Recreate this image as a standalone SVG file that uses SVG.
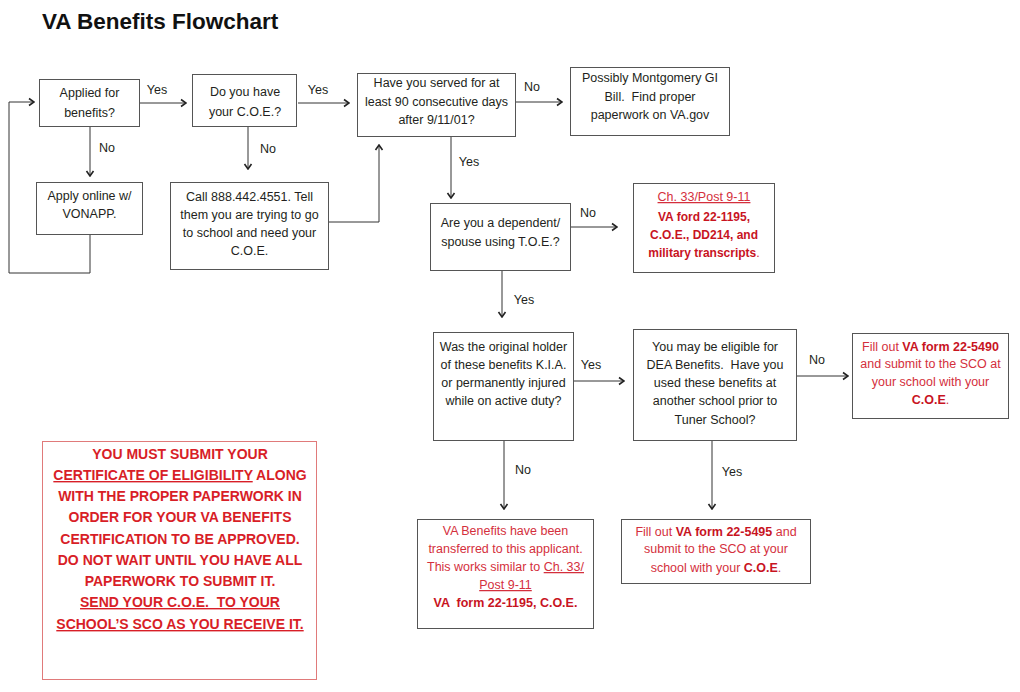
<svg xmlns="http://www.w3.org/2000/svg" width="1020" height="692" viewBox="0 0 1020 692">
<defs>
<marker id="arr" markerUnits="userSpaceOnUse" markerWidth="10" markerHeight="10" viewBox="0 0 10 10" refX="9" refY="5" orient="auto">
<path d="M4,1.5 L9,5 L4,8.5" fill="none" stroke="#222" stroke-width="1.6"/>
</marker>
</defs>
<style>
text{font-family:"Liberation Sans",Arial,sans-serif;font-size:12.5px;fill:#231f20}
.box{fill:#fff;stroke:#555;stroke-width:1}
.note{fill:#fff;stroke:#e07a7a;stroke-width:1}
.c{text-anchor:middle}
.r{fill:#d42f3c}
.b{font-weight:bold;fill:#c8141f}
.rb{font-weight:bold;fill:#c8141f}
.big{font-weight:bold;font-size:14px;fill:#d81e27;text-anchor:middle}
.u{text-decoration:underline}
.line{fill:none;stroke:#333;stroke-width:1;marker-end:url(#arr)}
.plain{fill:none;stroke:#333;stroke-width:1}
</style>
<rect width="1020" height="692" fill="#fff"/>
<text x="42" y="29" style="font-size:22.5px;font-weight:bold;fill:#111">VA Benefits Flowchart</text>

<g id="connectors">
<line class="line" x1="140" y1="103" x2="186" y2="103"/>
<line class="line" x1="298" y1="103" x2="349" y2="103"/>
<line class="line" x1="90" y1="127" x2="90" y2="176"/>
<polyline class="line" points="90,234 90,273 9,273 9,102 34,102"/>
<line class="line" x1="248" y1="126" x2="248" y2="169"/>
<polyline class="line" points="328,222 379,222 379,145"/>
<line class="line" x1="515" y1="102" x2="562" y2="102"/>
<line class="line" x1="451" y1="136" x2="451" y2="198"/>
<line class="line" x1="571" y1="227" x2="617" y2="227"/>
<line class="line" x1="502" y1="270" x2="502" y2="317"/>
<line class="line" x1="573" y1="381" x2="624" y2="381"/>
<line class="line" x1="797" y1="376" x2="848" y2="376"/>
<line class="line" x1="504" y1="440" x2="504" y2="509"/>
<line class="line" x1="712" y1="440" x2="712" y2="509"/>
<text class="c" x="157" y="94">Yes</text>
<text class="c" x="318" y="94">Yes</text>
<text class="c" x="107" y="152">No</text>
<text class="c" x="268" y="153">No</text>
<text class="c" x="532" y="91">No</text>
<text class="c" x="469" y="166">Yes</text>
<text class="c" x="588" y="217">No</text>
<text class="c" x="524" y="304">Yes</text>
<text class="c" x="591" y="369">Yes</text>
<text class="c" x="817" y="364">No</text>
<text class="c" x="523" y="474">No</text>
<text class="c" x="732" y="476">Yes</text>
</g>

<g id="applied">
<rect class="box" x="39.5" y="79.5" width="100" height="47"/>
<text class="c" x="89.5" y="97">Applied for</text>
<text class="c" x="89.5" y="117">benefits?</text>
</g>
<g id="apply-online">
<rect class="box" x="36.5" y="182.5" width="106" height="52"/>
<text class="c" x="89.5" y="200">Apply online w/</text>
<text class="c" x="89.5" y="218">VONAPP.</text>
</g>
<g id="have-coe">
<rect class="box" x="192.5" y="74.5" width="104" height="52"/>
<text class="c" x="245" y="96">Do you have</text>
<text class="c" x="245" y="116">your C.O.E.?</text>
</g>
<g id="call">
<rect class="box" x="170.5" y="182.5" width="158" height="87"/>
<text class="c" x="249.5" y="201">Call 888.442.4551. Tell</text>
<text class="c" x="249.5" y="219">them you are trying to go</text>
<text class="c" x="249.5" y="237">to school and need your</text>
<text class="c" x="249.5" y="255">C.O.E.</text>
</g>
<g id="served">
<rect class="box" x="357.5" y="73.5" width="158" height="63"/>
<text class="c" x="436.5" y="87">Have you served for at</text>
<text class="c" x="436.5" y="106">least 90 consecutive days</text>
<text class="c" x="436.5" y="124">after 9/11/01?</text>
</g>
<g id="montgomery">
<rect class="box" x="570.5" y="67.5" width="159" height="68"/>
<text class="c" x="650" y="82">Possibly Montgomery GI</text>
<text class="c" x="650" y="101" xml:space="preserve">Bill.  Find proper</text>
<text class="c" x="650" y="119">paperwork on VA.gov</text>
</g>
<g id="dependent">
<rect class="box" x="430.5" y="203.5" width="140" height="67"/>
<text class="c" x="500.5" y="227">Are you a dependent/</text>
<text class="c" x="500.5" y="246">spouse using T.O.E.?</text>
</g>
<g id="ch33">
<rect class="box" x="633.5" y="183.5" width="141" height="89"/>
<text class="c r u" x="704" y="201">Ch. 33/Post 9-11</text>
<text class="c rb" x="704" y="221" style="font-size:12px">VA ford 22-1195,</text>
<text class="c rb" x="704" y="239" style="font-size:12px">C.O.E., DD214, and</text>
<text class="c" x="704" y="257"><tspan class="rb" style="font-size:12px">military transcripts</tspan><tspan class="r">.</tspan></text>
</g>
<g id="kia">
<rect class="box" x="433.5" y="332.5" width="140" height="108"/>
<text class="c" x="503.5" y="351">Was the original holder</text>
<text class="c" x="503.5" y="369">of these benefits K.I.A.</text>
<text class="c" x="503.5" y="387">or permanently injured</text>
<text class="c" x="503.5" y="405">while on active duty?</text>
</g>
<g id="dea">
<rect class="box" x="633.5" y="329.5" width="163" height="111"/>
<text class="c" x="715" y="351">You may be eligible for</text>
<text class="c" x="715" y="369" xml:space="preserve">DEA Benefits.  Have you</text>
<text class="c" x="715" y="387">used these benefits at</text>
<text class="c" x="715" y="405">another school prior to</text>
<text class="c" x="715" y="424">Tuner School?</text>
</g>
<g id="form5490">
<rect class="box" x="852.5" y="333.5" width="156" height="85"/>
<text class="c" x="930.5" y="351"><tspan class="r">Fill out </tspan><tspan class="b">VA form 22-5490</tspan></text>
<text class="c r" x="930.5" y="368">and submit to the SCO at</text>
<text class="c r" x="930.5" y="386">your school with your</text>
<text class="c" x="930.5" y="404"><tspan class="b">C.O.E</tspan><tspan class="r">.</tspan></text>
</g>
<g id="transferred">
<rect class="box" x="417.5" y="519.5" width="176" height="109"/>
<text class="c r" x="505.5" y="535">VA Benefits have been</text>
<text class="c r" x="505.5" y="553">transferred to this applicant.</text>
<text class="c r" x="505.5" y="571">This works similar to <tspan class="u">Ch. 33/</tspan></text>
<text class="c r u" x="505.5" y="589">Post 9-11</text>
<text class="c b" x="505.5" y="607" xml:space="preserve">VA  form 22-1195, C.O.E.</text>
</g>
<g id="form5495">
<rect class="box" x="621.5" y="519.5" width="189" height="64"/>
<text class="c" x="716" y="536"><tspan class="r">Fill out </tspan><tspan class="b">VA form 22-5495</tspan><tspan class="r"> and</tspan></text>
<text class="c r" x="716" y="553">submit to the SCO at your</text>
<text class="c" x="716" y="572"><tspan class="r">school with your </tspan><tspan class="b">C.O.E</tspan><tspan class="r">.</tspan></text>
</g>
<g id="notice">
<rect class="note" x="42.5" y="441.5" width="274" height="238"/>
<text class="big" x="180" y="459">YOU MUST SUBMIT YOUR</text>
<text class="big" x="180" y="480"><tspan class="u">CERTIFICATE OF ELIGIBILITY</tspan> ALONG</text>
<text class="big" x="180" y="501">WITH THE PROPER PAPERWORK IN</text>
<text class="big" x="180" y="522">ORDER FOR YOUR VA BENEFITS</text>
<text class="big" x="180" y="544">CERTIFICATION TO BE APPROVED.</text>
<text class="big" x="180" y="565">DO NOT WAIT UNTIL YOU HAVE ALL</text>
<text class="big" x="180" y="586">PAPERWORK TO SUBMIT IT.</text>
<text class="big u" x="180" y="607" xml:space="preserve">SEND YOUR C.O.E.  TO YOUR</text>
<text class="big u" x="180" y="629">SCHOOL’S SCO AS YOU RECEIVE IT.</text>
</g>
</svg>
